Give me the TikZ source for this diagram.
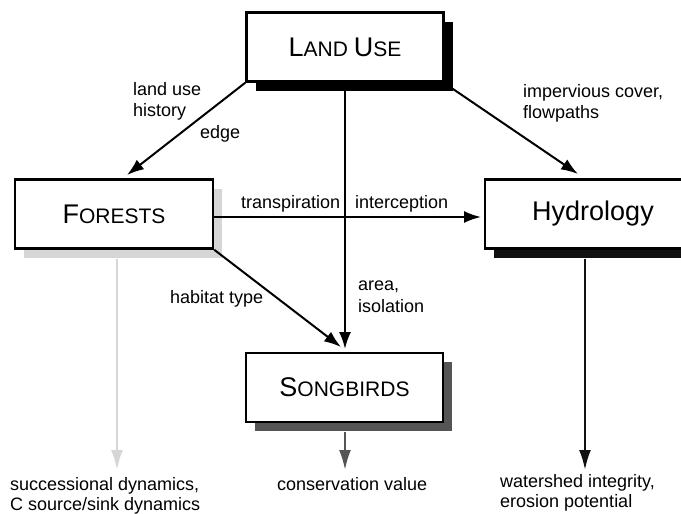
\documentclass[tikz,border=0pt]{standalone}
\usepackage{fontspec}
\setmainfont{Liberation Sans}
\usetikzlibrary{arrows.meta,shadows}
\definecolor{lightsh}{HTML}{D6D6D6}
\definecolor{darksh}{HTML}{555555}
\definecolor{blacksh}{HTML}{111111}
\newcommand{\bsc}[2]{{\fontsize{27}{30}\selectfont #1}{\fontsize{21}{24}\selectfont #2}}
\tikzset{
  boxnode/.style={draw=black, line width=2.5pt, fill=white, minimum width=197pt, minimum height=69pt, inner sep=0pt},
  shad/.style={general shadow={fill=#1, shadow xshift=9pt, shadow yshift=-9pt}},
  lbl/.style={font=\fontsize{18}{20}\selectfont, inner sep=0pt, align=left, anchor=base west},
  conn/.style={line width=2pt, -{Latex[length=17pt,width=12pt]}},
  downconn/.style={line width=2.5pt, -{Latex[length=20pt,width=12pt]}},
}
\begin{document}
\begin{tikzpicture}[x=1pt,y=-1pt]
\useasboundingbox (0,0) rectangle (681,514);
\clip (0,0) rectangle (681,514);
% boxes
\node[boxnode, shad=black] (lu) at (345,47) {\bsc{L}{AND~}\bsc{U}{SE}};
\node[boxnode, shad=lightsh, minimum width=198pt] (fo) at (114,214) {\bsc{F}{ORESTS}};
\node[boxnode, shad=blacksh, minimum width=216pt] (hy) at (593,214) {\fontsize{27}{30}\selectfont Hydrology};
\node[boxnode, shad=darksh] (sb) at (344.5,387.5) {\bsc{S}{ONGBIRDS}};
% connector end points
\coordinate (fotop) at (127,175);
\coordinate (hytop) at (578,174);
\coordinate (sbtop) at (345,349);
\coordinate (sbtop2) at (341,347);
\coordinate (hyleft) at (481,217);
\coordinate (foend) at (117,470);
\coordinate (sbend) at (345,470);
\coordinate (hyend) at (585,470);
% connectors
\draw[conn] (lu.south west) -- (fotop);
\draw[conn] (lu.south east) ++(2,2) -- (hytop);
\draw[conn] (lu.south) -- (sbtop);
\draw[conn] (fo.east |- hyleft) -- (hyleft);
\draw[conn] (fo.south east) -- (sbtop2);
\draw[downconn, draw=lightsh, fill=lightsh] (fo.south -| foend) ++(0,9) -- (foend);
\draw[downconn, draw=darksh, fill=darksh] (sb.south -| sbend) ++(0,9) -- (sbend);
\draw[downconn, draw=blacksh, fill=blacksh] (hy.south -| hyend) ++(0,9) -- (hyend);
% labels
\node[lbl] (l1) at (133,95) {land use};
\node[lbl] (l2) at (133,116) {history};
\node[lbl] (l3) at (200,138) {edge};
\node[lbl] (l4) at (523,97) {impervious cover,};
\node[lbl] (l5) at (523,118) {flowpaths};
\node[lbl] (l6) at (241,208) {transpiration};
\node[lbl] (l7) at (355,208) {interception};
\node[lbl] (l8) at (358,290) {area,};
\node[lbl] (l9) at (358,312) {isolation};
\node[lbl] (l10) at (170,303) {habitat type};
\node[lbl] (l11) at (10,510) {successional dynamics,\\C source/sink dynamics};
\node[lbl] (l12) at (277,490) {conservation value};
\node[lbl] (l13) at (500,507) {watershed integrity,\\erosion potential};
\end{tikzpicture}
\end{document}
